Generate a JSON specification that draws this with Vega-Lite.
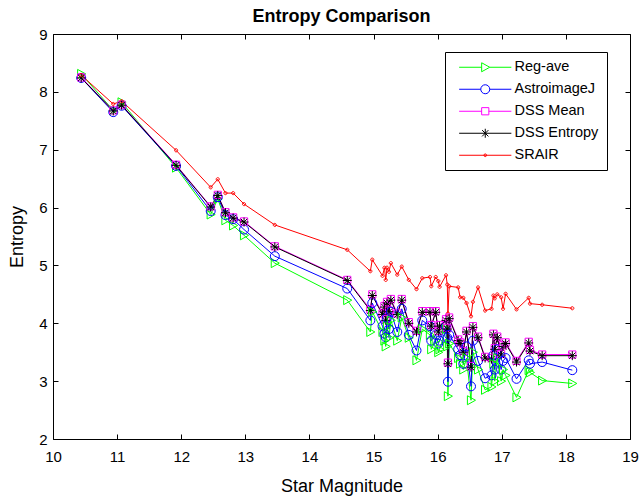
{
  "$schema": "https://vega.github.io/schema/vega-lite/v6.json",
  "width": 577,
  "height": 405,
  "autosize": {"type": "none"},
  "padding": {"left": 53, "top": 34, "right": 11, "bottom": 57},
  "background": "white",
  "config": {"view": {"stroke": null}, "font": "Liberation Sans"},
  "title": {"text": "Entropy Comparison", "font": "Liberation Sans", "fontSize": 18, "fontWeight": "bold", "anchor": "middle", "offset": 1, "color": "black"},
  "data": {"values": [
    {"mag": 10.44, "Reg-ave": 8.31, "AstroimageJ": 8.24, "DSS Mean": 8.25, "DSS Entropy": 8.24, "SRAIR": 8.29},
    {"mag": 10.94, "Reg-ave": 7.68, "AstroimageJ": 7.65, "DSS Mean": 7.68, "DSS Entropy": 7.67, "SRAIR": 7.79},
    {"mag": 11.07, "Reg-ave": 7.82, "AstroimageJ": 7.76, "DSS Mean": 7.78, "DSS Entropy": 7.77, "SRAIR": 7.84},
    {"mag": 11.92, "Reg-ave": 6.69, "AstroimageJ": 6.72, "DSS Mean": 6.74, "DSS Entropy": 6.73, "SRAIR": 6.99},
    {"mag": 12.46, "Reg-ave": 5.88, "AstroimageJ": 5.94, "DSS Mean": 6.02, "DSS Entropy": 6.01, "SRAIR": 6.35},
    {"mag": 12.57, "Reg-ave": 6.15, "AstroimageJ": 6.18, "DSS Mean": 6.22, "DSS Entropy": 6.21, "SRAIR": 6.49},
    {"mag": 12.69, "Reg-ave": 5.78, "AstroimageJ": 5.87, "DSS Mean": 5.92, "DSS Entropy": 5.91, "SRAIR": 6.25},
    {"mag": 12.81, "Reg-ave": 5.69, "AstroimageJ": 5.80, "DSS Mean": 5.83, "DSS Entropy": 5.82, "SRAIR": 6.25},
    {"mag": 12.98, "Reg-ave": 5.52, "AstroimageJ": 5.62, "DSS Mean": 5.76, "DSS Entropy": 5.75, "SRAIR": 6.06},
    {"mag": 13.46, "Reg-ave": 5.04, "AstroimageJ": 5.16, "DSS Mean": 5.33, "DSS Entropy": 5.32, "SRAIR": 5.70},
    {"mag": 14.59, "Reg-ave": 4.40, "AstroimageJ": 4.60, "DSS Mean": 4.75, "DSS Entropy": 4.74, "SRAIR": 5.27},
    {"mag": 14.95, "Reg-ave": 3.85, "AstroimageJ": 4.05, "DSS Mean": 4.24, "DSS Entropy": 4.22, "SRAIR": 4.90},
    {"mag": 14.98, "Reg-ave": 4.20, "AstroimageJ": 4.35, "DSS Mean": 4.50, "DSS Entropy": 4.48, "SRAIR": 5.10},
    {"mag": 15.14, "Reg-ave": 3.85, "AstroimageJ": 3.95, "DSS Mean": 4.17, "DSS Entropy": 4.15, "SRAIR": 4.82},
    {"mag": 15.17, "Reg-ave": 3.70, "AstroimageJ": 3.82, "DSS Mean": 4.30, "DSS Entropy": 4.28, "SRAIR": 4.96},
    {"mag": 15.19, "Reg-ave": 3.60, "AstroimageJ": 3.76, "DSS Mean": 4.07, "DSS Entropy": 4.05, "SRAIR": 4.75},
    {"mag": 15.21, "Reg-ave": 3.95, "AstroimageJ": 4.10, "DSS Mean": 4.37, "DSS Entropy": 4.35, "SRAIR": 4.96},
    {"mag": 15.24, "Reg-ave": 3.75, "AstroimageJ": 3.90, "DSS Mean": 4.22, "DSS Entropy": 4.20, "SRAIR": 4.89},
    {"mag": 15.27, "Reg-ave": 4.05, "AstroimageJ": 4.20, "DSS Mean": 4.42, "DSS Entropy": 4.40, "SRAIR": 5.04},
    {"mag": 15.37, "Reg-ave": 3.70, "AstroimageJ": 3.85, "DSS Mean": 4.17, "DSS Entropy": 4.15, "SRAIR": 4.84},
    {"mag": 15.44, "Reg-ave": 4.10, "AstroimageJ": 4.25, "DSS Mean": 4.42, "DSS Entropy": 4.40, "SRAIR": 4.98},
    {"mag": 15.55, "Reg-ave": 3.75, "AstroimageJ": 3.80, "DSS Mean": 4.02, "DSS Entropy": 4.00, "SRAIR": 4.75},
    {"mag": 15.67, "Reg-ave": 3.36, "AstroimageJ": 3.53, "DSS Mean": 3.87, "DSS Entropy": 3.85, "SRAIR": 4.59},
    {"mag": 15.76, "Reg-ave": 3.90, "AstroimageJ": 4.05, "DSS Mean": 4.21, "DSS Entropy": 4.19, "SRAIR": 4.78},
    {"mag": 15.88, "Reg-ave": 3.80, "AstroimageJ": 3.95, "DSS Mean": 4.21, "DSS Entropy": 4.19, "SRAIR": 4.80},
    {"mag": 15.90, "Reg-ave": 3.55, "AstroimageJ": 3.70, "DSS Mean": 3.97, "DSS Entropy": 3.95, "SRAIR": 4.64},
    {"mag": 15.97, "Reg-ave": 3.70, "AstroimageJ": 3.80, "DSS Mean": 4.21, "DSS Entropy": 4.19, "SRAIR": 4.80},
    {"mag": 16.01, "Reg-ave": 3.50, "AstroimageJ": 3.65, "DSS Mean": 3.87, "DSS Entropy": 3.85, "SRAIR": 4.73},
    {"mag": 16.03, "Reg-ave": 3.55, "AstroimageJ": 3.70, "DSS Mean": 3.97, "DSS Entropy": 3.95, "SRAIR": 4.63},
    {"mag": 16.13, "Reg-ave": 3.90, "AstroimageJ": 3.95, "DSS Mean": 4.07, "DSS Entropy": 4.05, "SRAIR": 4.83},
    {"mag": 16.15, "Reg-ave": 3.60, "AstroimageJ": 3.75, "DSS Mean": 3.92, "DSS Entropy": 3.90, "SRAIR": 4.67},
    {"mag": 16.16, "Reg-ave": 2.74, "AstroimageJ": 2.99, "DSS Mean": 3.32, "DSS Entropy": 3.30, "SRAIR": 4.17},
    {"mag": 16.18, "Reg-ave": 3.65, "AstroimageJ": 3.80, "DSS Mean": 4.10, "DSS Entropy": 4.08, "SRAIR": 4.64},
    {"mag": 16.32, "Reg-ave": 3.40, "AstroimageJ": 3.55, "DSS Mean": 3.72, "DSS Entropy": 3.70, "SRAIR": 4.62},
    {"mag": 16.35, "Reg-ave": 3.30, "AstroimageJ": 3.45, "DSS Mean": 3.67, "DSS Entropy": 3.65, "SRAIR": 4.45},
    {"mag": 16.40, "Reg-ave": 3.20, "AstroimageJ": 3.30, "DSS Mean": 3.52, "DSS Entropy": 3.50, "SRAIR": 4.44},
    {"mag": 16.45, "Reg-ave": 3.40, "AstroimageJ": 3.60, "DSS Mean": 3.87, "DSS Entropy": 3.85, "SRAIR": 4.35},
    {"mag": 16.52, "Reg-ave": 2.67, "AstroimageJ": 2.91, "DSS Mean": 3.26, "DSS Entropy": 3.24, "SRAIR": 4.12},
    {"mag": 16.55, "Reg-ave": 3.50, "AstroimageJ": 3.70, "DSS Mean": 3.95, "DSS Entropy": 3.93, "SRAIR": 4.37},
    {"mag": 16.63, "Reg-ave": 3.20, "AstroimageJ": 3.35, "DSS Mean": 3.77, "DSS Entropy": 3.75, "SRAIR": 4.62},
    {"mag": 16.74, "Reg-ave": 2.85, "AstroimageJ": 3.05, "DSS Mean": 3.42, "DSS Entropy": 3.40, "SRAIR": 4.22},
    {"mag": 16.84, "Reg-ave": 2.90, "AstroimageJ": 3.10, "DSS Mean": 3.40, "DSS Entropy": 3.38, "SRAIR": 4.25},
    {"mag": 16.87, "Reg-ave": 3.30, "AstroimageJ": 3.45, "DSS Mean": 3.82, "DSS Entropy": 3.80, "SRAIR": 4.48},
    {"mag": 16.89, "Reg-ave": 3.00, "AstroimageJ": 3.20, "DSS Mean": 3.57, "DSS Entropy": 3.55, "SRAIR": 4.43},
    {"mag": 16.93, "Reg-ave": 3.40, "AstroimageJ": 3.55, "DSS Mean": 3.77, "DSS Entropy": 3.75, "SRAIR": 4.50},
    {"mag": 16.99, "Reg-ave": 3.00, "AstroimageJ": 3.20, "DSS Mean": 3.47, "DSS Entropy": 3.45, "SRAIR": 4.45},
    {"mag": 17.02, "Reg-ave": 3.20, "AstroimageJ": 3.35, "DSS Mean": 3.62, "DSS Entropy": 3.60, "SRAIR": 4.25},
    {"mag": 17.06, "Reg-ave": 3.10, "AstroimageJ": 3.40, "DSS Mean": 3.67, "DSS Entropy": 3.65, "SRAIR": 4.51},
    {"mag": 17.23, "Reg-ave": 2.72, "AstroimageJ": 3.04, "DSS Mean": 3.35, "DSS Entropy": 3.33, "SRAIR": 4.24},
    {"mag": 17.42, "Reg-ave": 3.19, "AstroimageJ": 3.36, "DSS Mean": 3.68, "DSS Entropy": 3.66, "SRAIR": 4.44},
    {"mag": 17.44, "Reg-ave": 3.15, "AstroimageJ": 3.30, "DSS Mean": 3.54, "DSS Entropy": 3.52, "SRAIR": 4.34},
    {"mag": 17.63, "Reg-ave": 3.01, "AstroimageJ": 3.33, "DSS Mean": 3.46, "DSS Entropy": 3.44, "SRAIR": 4.32},
    {"mag": 18.10, "Reg-ave": 2.96, "AstroimageJ": 3.19, "DSS Mean": 3.46, "DSS Entropy": 3.44, "SRAIR": 4.26}
  ]},
  "transform": [
    {"fold": ["Reg-ave", "AstroimageJ", "DSS Mean", "DSS Entropy", "SRAIR"], "as": ["series", "entropy"]}
  ],
  "resolve": {"scale": {"color": "independent", "shape": "independent"}, "axis": {"x": "independent", "y": "independent"}},
  "layer": [
    {
      "mark": {"type": "line", "strokeWidth": 1, "clip": true},
      "encoding": {
        "x": {"field": "mag", "type": "quantitative", "scale": {"domain": [10, 19], "nice": false, "zero": false},
          "axis": {"orient": "bottom", "values": [10, 11, 12, 13, 14, 15, 16, 17, 18, 19], "grid": false, "labelFlush": false, "domainColor": "black", "domainWidth": 1, "tickColor": "black", "tickSize": -5, "labelPadding": 15, "labelFont": "Liberation Sans", "labelFontSize": 15, "labelColor": "black", "title": "Star Magnitude", "titleFont": "Liberation Sans", "titleFontSize": 18, "titleFontWeight": "normal", "titleColor": "black", "titlePadding": 13}},
        "y": {"field": "entropy", "type": "quantitative", "scale": {"domain": [2, 9], "nice": false, "zero": false},
          "axis": {"orient": "left", "values": [2, 3, 4, 5, 6, 7, 8, 9], "grid": false, "labelFlush": false, "domainColor": "black", "domainWidth": 1, "tickColor": "black", "tickSize": -5, "labelPadding": 11, "labelFont": "Liberation Sans", "labelFontSize": 15, "labelColor": "black", "title": "Entropy", "titleFont": "Liberation Sans", "titleFontSize": 18, "titleFontWeight": "normal", "titleColor": "black", "titlePadding": 12}},
        "color": {"field": "series", "type": "nominal", "legend": null,
          "scale": {"domain": ["Reg-ave", "AstroimageJ", "DSS Mean", "DSS Entropy", "SRAIR"], "range": ["#00FF00", "#0000FF", "#FF00FF", "#000000", "#FF0000"]}}
      }
    },
    {
      "mark": {"type": "point", "filled": false, "strokeWidth": 1, "size": 81, "opacity": 1, "clip": true},
      "encoding": {
        "x": {"field": "mag", "type": "quantitative", "scale": {"domain": [10, 19], "nice": false, "zero": false},
          "axis": {"orient": "top", "values": [10, 11, 12, 13, 14, 15, 16, 17, 18, 19], "grid": false, "labels": false, "title": null, "domainColor": "black", "tickColor": "black", "tickSize": -5}},
        "y": {"field": "entropy", "type": "quantitative", "scale": {"domain": [2, 9], "nice": false, "zero": false},
          "axis": {"orient": "right", "values": [2, 3, 4, 5, 6, 7, 8, 9], "grid": false, "labels": false, "title": null, "domainColor": "black", "tickColor": "black", "tickSize": -5}},
        "color": {"field": "series", "type": "nominal", "legend": null,
          "scale": {"domain": ["Reg-ave", "AstroimageJ", "DSS Mean", "DSS Entropy", "SRAIR"], "range": ["#00FF00", "#0000FF", "#FF00FF", "#000000", "#FF0000"]}},
        "shape": {"field": "series", "type": "nominal", "legend": null,
          "scale": {"domain": ["Reg-ave", "AstroimageJ", "DSS Mean", "DSS Entropy", "SRAIR"],
            "range": ["M-0.8,-1L1,0L-0.8,1Z", "M1,0A1,1,0,1,1,-1,0A1,1,0,1,1,1,0Z", "M-0.8,-0.8H0.8V0.8H-0.8Z", "M-1,0H1M0,-1V1M-0.7,-0.7L0.7,0.7M-0.7,0.7L0.7,-0.7", "M0.35,0A0.35,0.35,0,1,1,-0.35,0A0.35,0.35,0,1,1,0.35,0Z"]}}
      }
    },
    {
      "transform": [{"filter": "false"}],
      "mark": {"type": "point", "filled": false, "strokeWidth": 1, "size": 81, "opacity": 1},
      "encoding": {
        "x": {"field": "mag", "type": "quantitative", "scale": {"domain": [10, 19], "nice": false, "zero": false}, "axis": null},
        "y": {"field": "entropy", "type": "quantitative", "scale": {"domain": [2, 9], "nice": false, "zero": false}, "axis": null},
        "color": {"field": "series", "type": "nominal",
          "scale": {"domain": ["Reg-ave", "AstroimageJ", "DSS Mean", "DSS Entropy", "SRAIR"], "range": ["#00FF00", "#0000FF", "#FF00FF", "#000000", "#FF0000"]},
          "legend": {"orient": "none", "legendX": 392, "legendY": 18, "title": null, "padding": 8, "strokeColor": "black", "fillColor": "white", "cornerRadius": 0, "labelFont": "Liberation Sans", "labelFontSize": 14.5, "labelColor": "black", "symbolSize": 81, "symbolStrokeWidth": 1, "symbolOffset": 25, "labelOffset": 22, "rowPadding": 7}},
        "shape": {"field": "series", "type": "nominal",
          "scale": {"domain": ["Reg-ave", "AstroimageJ", "DSS Mean", "DSS Entropy", "SRAIR"],
            "range": ["M-5.8,0H-0.8M1,0H5.8M-0.8,-1L1,0L-0.8,1Z", "M-5.8,0H-1M1,0H5.8M1,0A1,1,0,1,1,-1,0A1,1,0,1,1,1,0Z", "M-5.8,0H-0.8M0.8,0H5.8M-0.8,-0.8H0.8V0.8H-0.8Z", "M-5.8,0H5.8M0,-1V1M-0.7,-0.7L0.7,0.7M-0.7,0.7L0.7,-0.7", "M-5.8,0H5.8M0.3,0A0.3,0.3,0,1,1,-0.3,0A0.3,0.3,0,1,1,0.3,0Z"]},
          "legend": {"orient": "none", "legendX": 392, "legendY": 18, "title": null, "padding": 8, "strokeColor": "black", "fillColor": "white", "cornerRadius": 0, "labelFont": "Liberation Sans", "labelFontSize": 14.5, "labelColor": "black", "symbolSize": 81, "symbolStrokeWidth": 1, "symbolOffset": 25, "labelOffset": 22, "rowPadding": 7}}
      }
    }
  ]
}
